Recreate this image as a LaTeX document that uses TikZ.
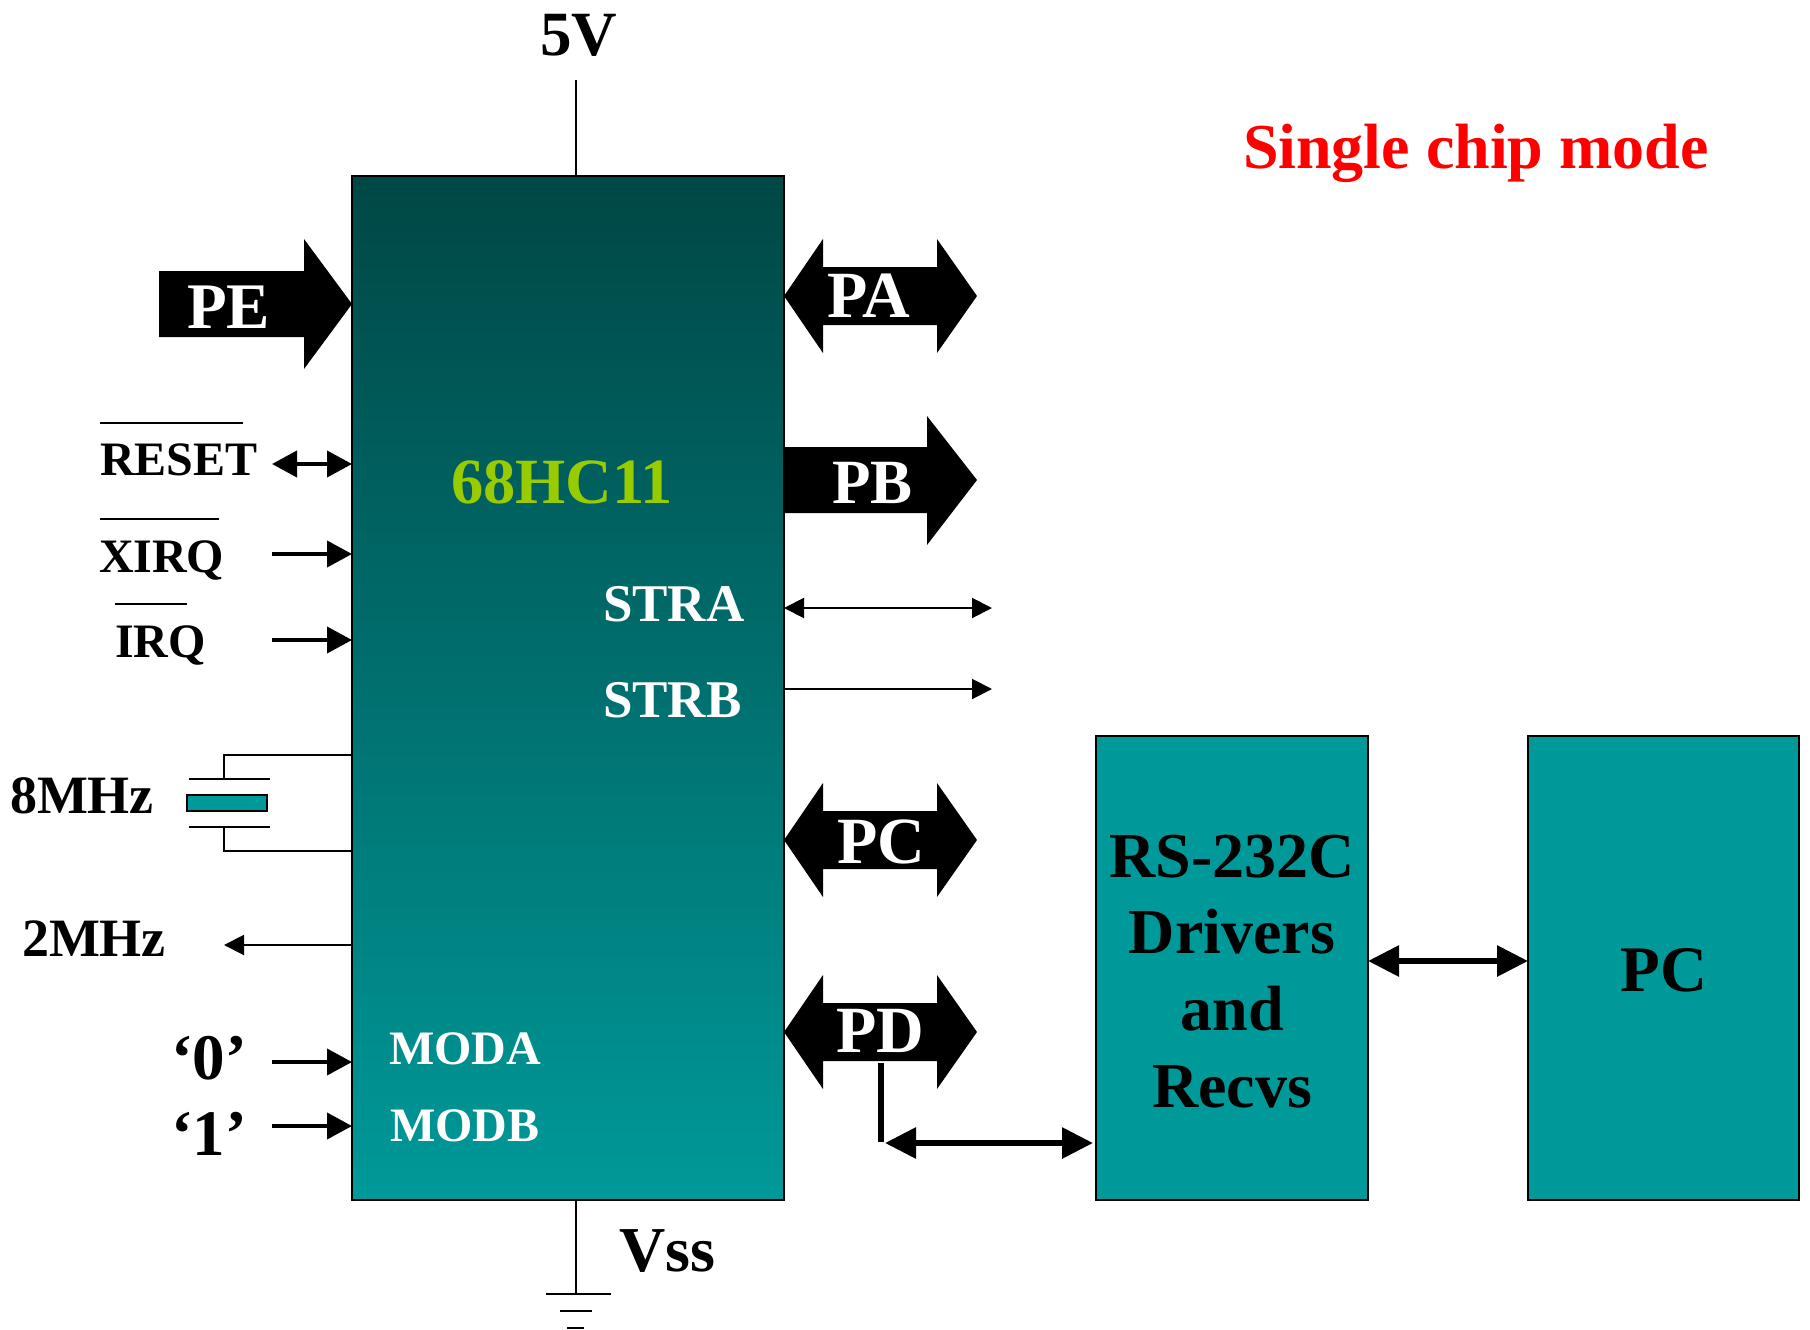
\documentclass[tikz,border=0pt]{standalone}
\usepackage{fontspec}
\setmainfont{Liberation Serif}
\usetikzlibrary{arrows.meta}
\definecolor{tealbox}{HTML}{009999}
\definecolor{tealtop}{HTML}{004745}
\definecolor{chiplime}{HTML}{99CC00}
\tikzset{
  lbl/.style={anchor=base west,inner sep=0pt,outer sep=0pt,font=\bfseries\fontsize{#1}{#1}\selectfont},
  lblc/.style={anchor=base,inner sep=0pt,outer sep=0pt,font=\bfseries\fontsize{#1}{#1}\selectfont},
  box/.style={draw=black,line width=2pt,fill=tealbox,inner sep=0pt,outer sep=0pt},
  thin wire/.style={line width=2pt},
  med tip/.style={line width=4pt,-{Triangle[length=25pt,width=26pt]}},
  med both/.style={line width=4pt,{Triangle[length=25pt,width=26pt]}-{Triangle[length=25pt,width=26pt]}},
  small tip/.style={line width=2pt,-{Triangle[length=20pt,width=20pt]}},
  small both/.style={line width=2pt,{Triangle[length=20pt,width=20pt]}-{Triangle[length=20pt,width=20pt]}},
  big both/.style={line width=6pt,{Triangle[length=31pt,width=30pt]}-{Triangle[length=31pt,width=30pt]}},
}
\newcommand{\dblarrow}[1]{%
  \fill[black] (784,#1) -- (823,#1-57) -- (823,#1-29) -- (937,#1-29) -- (937,#1-57)
    -- (977,#1) -- (937,#1+57) -- (937,#1+29) -- (823,#1+29) -- (823,#1+57) -- cycle;}
\begin{document}
\begin{tikzpicture}[x=1pt,y=-1pt]
\useasboundingbox (0,0) rectangle (1810,1330);
% main boxes
\node[box,top color=tealtop,bottom color=tealbox,minimum width=432pt,minimum height=1024pt] (chip) at (568,688) {};
\node[box,minimum width=272pt,minimum height=464pt] (rs) at (1232,968) {};
\node[box,minimum width=271pt,minimum height=464pt] (pcbox) at (1663.5,968) {};
% supply
\coordinate (vtop) at (576,80);
\draw[thin wire] (vtop) -- (vtop |- chip.north);
\coordinate (gnd) at (576,1293);
\draw[thin wire] (gnd |- chip.south) -- (gnd);
\coordinate (g1a) at (546,1294); \coordinate (g1b) at (611,1294);
\coordinate (g2a) at (560,1311); \coordinate (g2b) at (592,1311);
\coordinate (g3a) at (567,1328); \coordinate (g3b) at (584,1328);
\draw[thin wire] (g1a) -- (g1b);
\draw[thin wire] (g2a) -- (g2b);
\draw[thin wire] (g3a) -- (g3b);
% fat arrows
\fill[black] (159,271) -- (304,271) -- (304,239) -- (352,304) -- (304,369) -- (304,337) -- (159,337) -- cycle;
\dblarrow{296}
\fill[black] (784,447) -- (927,447) -- (927,416) -- (977,480) -- (927,545) -- (927,513) -- (784,513) -- cycle;
\dblarrow{840}
\dblarrow{1032}
% left signal arrows
\coordinate (rstend) at (272,464);
\coordinate (xirqend) at (272,554);
\coordinate (irqend) at (272,640);
\coordinate (zeroend) at (272,1062);
\coordinate (oneend) at (272,1126);
\coordinate (twoend) at (224,945);
\draw[med both] (rstend) -- (rstend -| chip.west);
\draw[med tip] (xirqend) -- (xirqend -| chip.west);
\draw[med tip] (irqend) -- (irqend -| chip.west);
\draw[med tip] (zeroend) -- (zeroend -| chip.west);
\draw[med tip] (oneend) -- (oneend -| chip.west);
\draw[small tip] (twoend -| chip.west) -- (twoend);
% right signal arrows
\coordinate (straend) at (992,608);
\coordinate (strbend) at (992,689);
\draw[small both] (straend -| chip.east) -- (straend);
\draw[small tip] (strbend -| chip.east) -- (strbend);
% crystal
\coordinate (xt) at (224,755);
\coordinate (xtp) at (224,779);
\coordinate (xb) at (224,851);
\coordinate (xbp) at (224,827);
\coordinate (pl1a) at (189,779); \coordinate (pl1b) at (270,779);
\coordinate (pl2a) at (189,827); \coordinate (pl2b) at (270,827);
\draw[thin wire] (xt -| chip.west) -- (xt) -- (xtp);
\draw[thin wire] (xb -| chip.west) -- (xb) -- (xbp);
\draw[thin wire] (pl1a) -- (pl1b);
\draw[thin wire] (pl2a) -- (pl2b);
\node[box,minimum width=80pt,minimum height=16pt] (xtal) at (227,803) {};
% PD link
\coordinate (pdtop) at (881,1063);
\coordinate (pdcorner) at (881,1142);
\coordinate (pdstart) at (885,1143);
\coordinate (rsin) at (1093,1143);
\draw[line width=6pt] (pdtop) -- (pdcorner);
\draw[big both] (pdstart) -- (rsin);
\coordinate (linkmid) at (1368,961);
\draw[big both] (rs.east |- linkmid) -- (pcbox.west |- linkmid);
% overbars
\coordinate (o1a) at (100,423); \coordinate (o1b) at (243,423);
\coordinate (o2a) at (100,519); \coordinate (o2b) at (219,519);
\coordinate (o3a) at (115,604); \coordinate (o3b) at (187,604);
\draw[line width=2.5pt] (o1a) -- (o1b);
\draw[line width=2.5pt] (o2a) -- (o2b);
\draw[line width=2.5pt] (o3a) -- (o3b);
% labels
\node[lbl=63] (t5v) at (540,56) {5V};
\node[lbl=64,text=red] (title) at (1243,168) {Single chip mode};
\node[lbl=65,text=white] (tpe) at (187,328) {PE};
\node[lbl=66,text=white] (tpa) at (827,317) {PA};
\node[lbl=63,text=white] (tpb) at (832,503) {PB};
\node[lbl=66,text=white] (tpc) at (837,863) {PC};
\node[lbl=66,text=white] (tpd) at (836,1052) {PD};
\node[lbl=48] (trst) at (100,475) {RESET};
\node[lbl=48] (txirq) at (99,572) {XIRQ};
\node[lbl=48] (tirq) at (115,657) {IRQ};
\node[lbl=64.5,text=chiplime] (t68) at (451,503) {68HC11};
\node[lbl=53,text=white] (tstra) at (603,621) {STRA};
\node[lbl=53,text=white] (tstrb) at (603,717) {STRB};
\node[lbl=54] (t8m) at (10,813) {8MHz};
\node[lbl=54] (t2m) at (22,956) {2MHz};
\node[lbl=65] (t0) at (171,1079) {‘0’};
\node[lbl=65] (t1) at (171,1155) {‘1’};
\node[lbl=48,text=white] (tmoda) at (389,1064) {MODA};
\node[lbl=48,text=white] (tmodb) at (390,1141) {MODB};
\node[lbl=64] (tvss) at (619,1271) {Vss};
\node[lblc=64] (trs1) at (1232,877) {RS-232C};
\node[lblc=64] (trs2) at (1232,953) {Drivers};
\node[lblc=64] (trs3) at (1232,1030) {and};
\node[lblc=64] (trs4) at (1232,1107) {Recvs};
\node[lblc=65] (tpcb) at (1664,991) {PC};
\end{tikzpicture}
\end{document}
